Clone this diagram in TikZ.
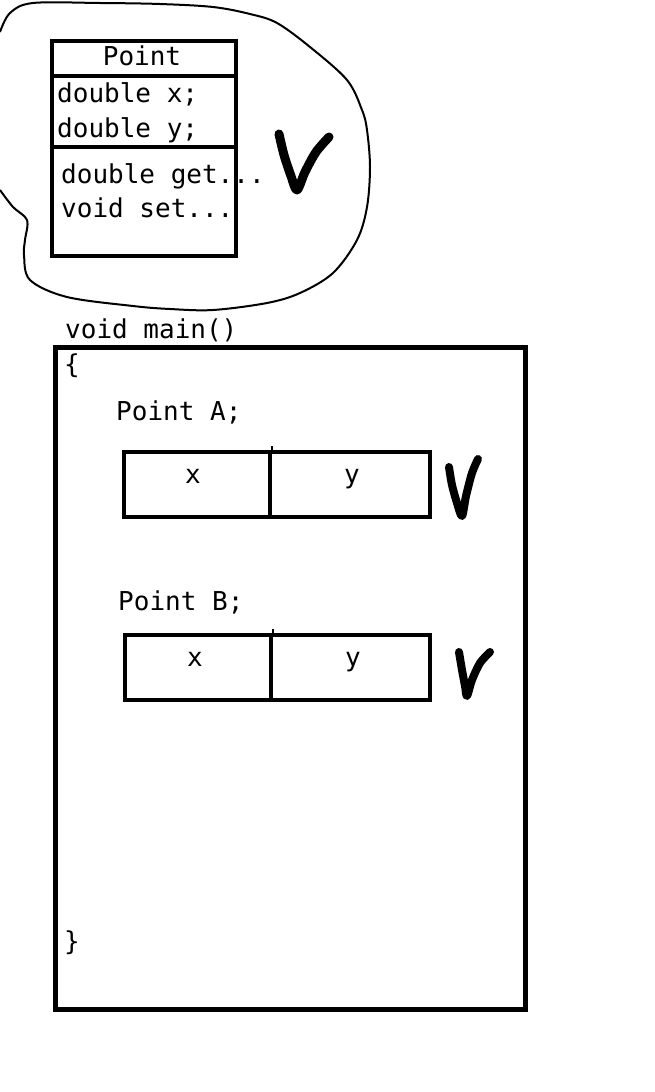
\documentclass[tikz,border=0pt]{standalone}
\usepackage{fontspec}
\setmonofont{DejaVu Sans Mono}
\begin{document}
\begin{tikzpicture}[x=1pt,y=-1pt,
  code/.style={font=\ttfamily\fontsize{26}{30}\selectfont, inner sep=0pt, anchor=base west},
  box/.style={draw, line width=4pt, inner sep=0pt},
  check/.style={line width=9pt, line cap=round, line join=round},
  blob/.style={line width=2pt, line join=round}]
\useasboundingbox[fill=white] (0,0) rectangle (654,1092);

% hand-drawn cloud around the class
\draw[blob] plot[smooth, tension=0.55] coordinates {(0,32) (10,13) (33,3) (100,3) (160,4) (213,7) (250,14) (277,23) (310,47) (347,80) (362,110) (367,130) (370,167) (367,207) (357,240) (333,273) (300,293) (267,303) (213,310) (170,309) (133,306) (67,297) (30,280) (24,255) (25,240) (27,220) (13,207) (0,190)};

% class box
\node[box, minimum width=184pt, minimum height=215pt] (cls) at (143.5,148.5) {};
\coordinate (s1) at (0,76);
\coordinate (s2) at (0,146.5);
\draw[line width=4pt] (cls.west |- s1) -- (cls.east |- s1);
\draw[line width=4pt] (cls.west |- s2) -- (cls.east |- s2);
\node[code, anchor=base] (pt) at (142,65) {Point};
\node[code] (dx) at (57,102) {double x;};
\node[code] (dy) at (57,137) {double y;};
\node[code] (dg) at (61,183) {double get...};
\node[code] (vs) at (61,217) {void set...};
\draw[check] plot[smooth, tension=0.5] coordinates {(279,134) (284,155) (291,176) (297,190) (305,172) (316,152) (329,137)};

% main function
\node[code] (vm) at (65,338) {void main()};
\node[draw, line width=5pt, minimum width=470pt, minimum height=662pt, inner sep=0pt] (main) at (290.5,678.5) {};
\node[code] (ob) at (64,373) {\{};
\node[code] (cb) at (64,950) {\}};

% Point A
\node[code] (pa) at (116,420) {Point A;};
\node[box, minimum width=146pt, minimum height=65pt] (ax) at (196.5,484.5) {};
\node[box, minimum width=160.5pt, minimum height=65pt] (ay) at (349.75,484.5) {};
\draw[line width=2pt] (ax.north east) -- ++(0,-4);
\node[code, anchor=base] (axl) at (193,483) {x};
\node[code, anchor=base] (ayl) at (352,483) {y};
\draw[check, line width=8pt] plot[smooth, tension=0.5] coordinates {(449,467) (452,485) (457,503) (462,516) (466,496) (472,473) (478,459)};

% Point B
\node[code] (pb) at (118,610) {Point B;};
\node[box, minimum width=145.5pt, minimum height=64.5pt] (bx) at (197.75,667.25) {};
\node[box, minimum width=159.5pt, minimum height=64.5pt] (by) at (350.25,667.25) {};
\draw[line width=2pt] (bx.north east) -- ++(0,-4);
\node[code, anchor=base] (bxl) at (195,666) {x};
\node[code, anchor=base] (byl) at (353,666) {y};
\draw[check, line width=8pt] plot[smooth, tension=0.5] coordinates {(459,652) (462,670) (465,686) (467,696) (472,680) (480,663) (490,652)};
\end{tikzpicture}
\end{document}
